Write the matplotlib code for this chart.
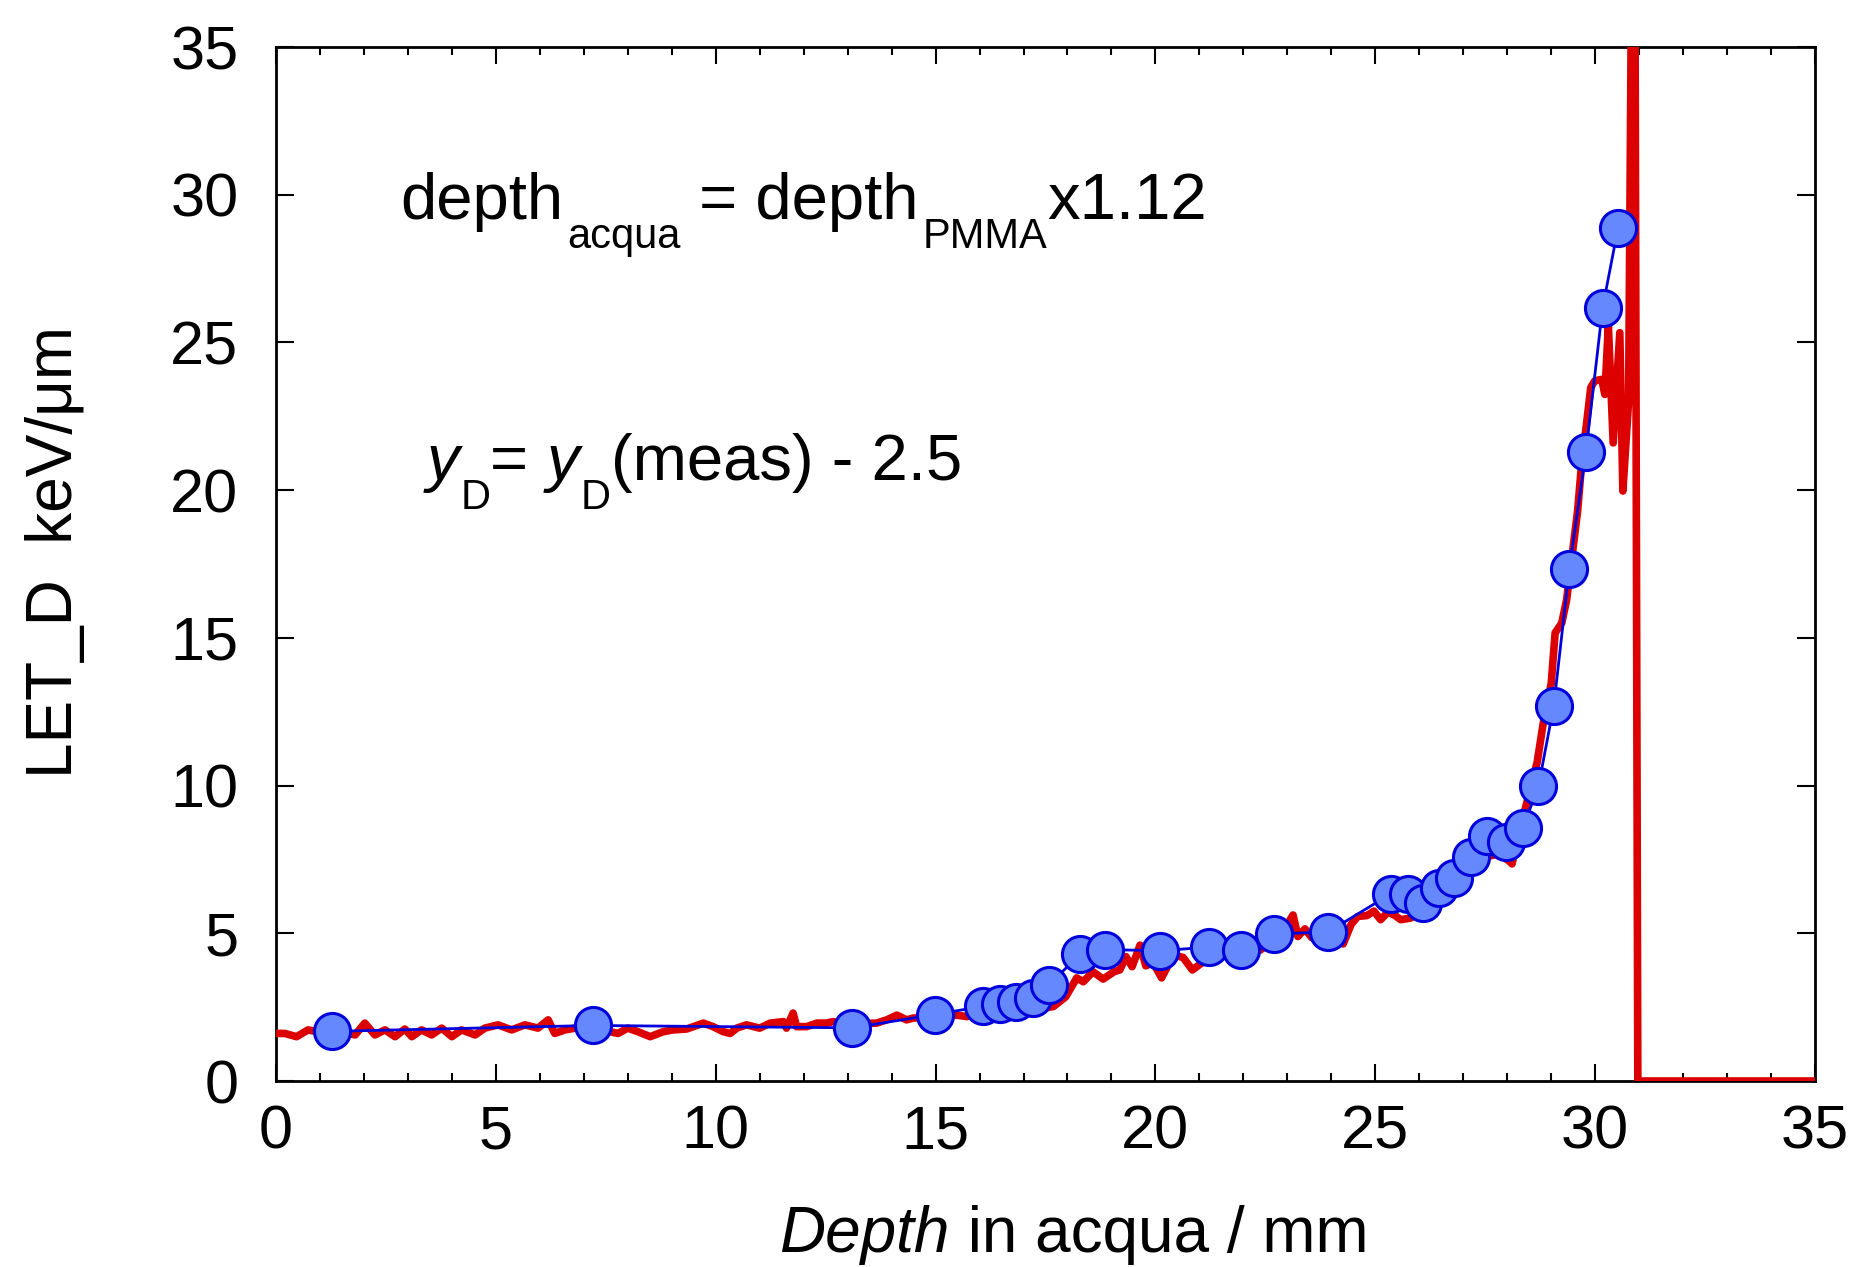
import numpy as np
import matplotlib
matplotlib.use('Agg')
import matplotlib.pyplot as plt
from matplotlib.ticker import MultipleLocator

plt.rcParams['font.family'] = ['Liberation Sans', 'DejaVu Sans']
NARROW = ['Liberation Sans Narrow', 'Liberation Sans', 'DejaVu Sans']

# measured LET_D (blue points), depth in water / mm
meas_depth = [1.27, 7.20, 13.11, 14.98, 16.08, 16.46, 16.84, 17.22, 17.57, 18.29,
              18.86, 20.10, 21.21, 21.94, 22.69, 23.93, 25.36, 25.74, 26.09, 26.44,
              26.79, 27.17, 27.55, 27.98, 28.36, 28.71, 29.06, 29.41, 29.79, 30.17,
              30.52]
meas_let = [1.68, 1.88, 1.80, 2.25, 2.53, 2.61, 2.69, 2.81, 3.25, 4.29,
            4.45, 4.41, 4.53, 4.45, 4.97, 5.05, 6.34, 6.34, 6.01, 6.54,
            6.86, 7.58, 8.30, 8.10, 8.58, 9.98, 12.71, 17.32, 21.29, 26.18,
            28.87]

# simulated LET_D (red line)
sim_depth = [0.0, 0.2, 0.47, 0.73, 1.0, 1.3, 1.55, 1.80, 2.02, 2.25,
             2.48, 2.71, 2.93, 3.09, 3.31, 3.54, 3.77, 4.00, 4.22, 4.53,
             4.75, 5.05, 5.36, 5.66, 5.96, 6.19, 6.34, 6.57, 6.85, 7.2,
             7.5, 7.78, 8.0, 8.23, 8.51, 8.81, 9.03, 9.34, 9.72, 9.94,
             10.17, 10.33, 10.48, 10.70, 11.0, 11.24, 11.54, 11.61, 11.76, 11.84,
             12.07, 12.3, 12.52, 12.67, 12.9, 13.2, 13.45, 13.66, 13.89, 14.12,
             14.34, 14.49, 14.75, 15.0, 15.25, 15.48, 15.71, 15.95, 16.2, 16.5,
             16.8, 17.1, 17.4, 17.68, 17.96, 18.21, 18.36, 18.58, 18.81, 19.06,
             19.19, 19.33, 19.47, 19.65, 19.78, 19.95, 20.14, 20.41, 20.63, 20.84,
             21.05, 21.3, 21.6, 21.9, 22.15, 22.38, 22.67, 23.0, 23.13, 23.24,
             23.4, 23.55, 23.8, 24.05, 24.27, 24.45, 24.6, 24.81, 24.97, 25.12,
             25.29, 25.45, 25.58, 25.81, 26.0, 26.25, 26.5, 26.8, 27.1, 27.35,
             27.61, 27.81, 28.04, 28.11, 28.25, 28.42, 28.68, 28.82, 29.0, 29.09,
             29.24, 29.35, 29.6, 29.68, 29.9, 29.99, 30.15, 30.22, 30.3, 30.41,
             30.56, 30.63, 30.76, 30.84, 30.90, 30.97, 35.0]
sim_let = [1.61, 1.61, 1.50, 1.73, 1.65, 1.62, 1.65, 1.56, 1.96, 1.56,
           1.73, 1.50, 1.76, 1.50, 1.73, 1.56, 1.79, 1.50, 1.73, 1.56,
           1.79, 1.90, 1.73, 1.90, 1.79, 2.07, 1.61, 1.73, 1.80, 1.75,
           1.70, 1.61, 1.79, 1.67, 1.50, 1.67, 1.73, 1.76, 1.96, 1.84,
           1.67, 1.61, 1.79, 1.90, 1.79, 1.96, 2.01, 1.79, 2.30, 1.84,
           1.84, 1.96, 1.96, 2.01, 1.95, 1.90, 1.95, 1.96, 2.07, 2.23,
           2.07, 2.13, 2.15, 2.20, 2.20, 2.23, 2.18, 2.30, 2.35, 2.40,
           2.45, 2.50, 2.45, 2.52, 2.85, 3.49, 3.36, 3.70, 3.45, 3.70,
           3.76, 4.21, 3.87, 4.60, 3.90, 4.00, 3.49, 4.27, 4.18, 3.76,
           3.99, 4.30, 4.35, 4.40, 4.40, 4.43, 4.75, 5.30, 5.62, 4.89,
           5.15, 4.86, 4.95, 4.90, 4.64, 5.30, 5.57, 5.60, 5.75, 5.46,
           5.72, 5.60, 5.46, 5.52, 5.75, 6.10, 6.50, 6.80, 7.20, 7.50,
           7.62, 7.69, 7.45, 7.35, 8.30, 9.27, 10.78, 12.12, 13.45, 15.17,
           15.50, 16.28, 19.28, 20.68, 23.47, 23.70, 23.75, 23.24, 25.57, 21.60,
           25.33, 19.97, 23.00, 40.0, 40.0, 0.0, 0.0]


def chain_text(ax, x, y, pieces, coords='data', family=None):
    # pieces: (text, fontsize, style, dx, dy) -> each one starts where the previous ends
    prev = None
    for s, size, style, dx, dy in pieces:
        if prev is None:
            prev = ax.annotate(s, xy=(x, y), xycoords=coords, xytext=(dx, dy),
                               textcoords='offset points', fontsize=size, style=style,
                               family=family, ha='left', va='baseline',
                               annotation_clip=False)
        else:
            prev = ax.annotate(s, xy=(1, y), xycoords=(prev, coords), xytext=(dx, dy),
                               textcoords='offset points', fontsize=size, style=style,
                               family=family, ha='left', va='baseline',
                               annotation_clip=False)
    return prev


fig = plt.figure(figsize=(18.57, 12.67), dpi=100)
ax = fig.add_axes([0.1486, 0.1468, 0.8288, 0.8161])

ax.plot(sim_depth, sim_let, color='#DD0000', lw=5.5, zorder=2.6)
ax.plot(meas_depth, meas_let, color='#0000DD', lw=2, marker='o', ms=26,
        mfc='#6688FF', mec='#0000DD', mew=2.2, zorder=3)

ax.set_xlim(0, 35)
ax.set_ylim(0, 35)
ax.xaxis.set_major_locator(MultipleLocator(5))
ax.xaxis.set_minor_locator(MultipleLocator(1))
ax.yaxis.set_major_locator(MultipleLocator(5))

for s in ax.spines.values():
    s.set_linewidth(2)
ax.tick_params(axis='x', which='major', direction='in', top=True, length=12, width=1.5,
               labelsize=44, pad=17)
ax.tick_params(axis='x', which='minor', direction='in', top=True, length=6, width=1.5)
ax.tick_params(axis='y', which='major', direction='in', right=True, length=13, width=1.5,
               labelsize=44, pad=27)

ax.set_ylabel('LET_D  keV/\u03bcm', fontsize=46, family=NARROW)
ax.yaxis.set_label_coords(-0.124, 0.512)

# x label: italic "Depth" followed by the rest
chain_text(ax, 0.327, -0.165,
           [('Depth', 46, 'italic', 0, 0),
            (' in acqua / mm', 46, 'normal', 0, 0)],
           coords='axes fraction')

chain_text(ax, 2.83, 29.18,
           [('depth', 47, 'normal', 0, 0),
            ('acqua', 30, 'normal', 3, -21),
            (' = depth', 47, 'normal', 0, 0),
            ('PMMA', 30, 'normal', 3, -21),
            ('x1.12', 47, 'normal', 0, 0)],
           family=NARROW)

chain_text(ax, 3.42, 20.36,
           [('y', 47, 'italic', 0, 0),
            ('D', 30, 'normal', 1, -21),
            ('= ', 47, 'normal', 0, 0),
            ('y', 47, 'italic', 0, 0),
            ('D', 30, 'normal', 1, -21),
            ('(meas) - 2.5', 47, 'normal', 0, 0)],
           family=NARROW)

fig.savefig('out.png', dpi=100)
